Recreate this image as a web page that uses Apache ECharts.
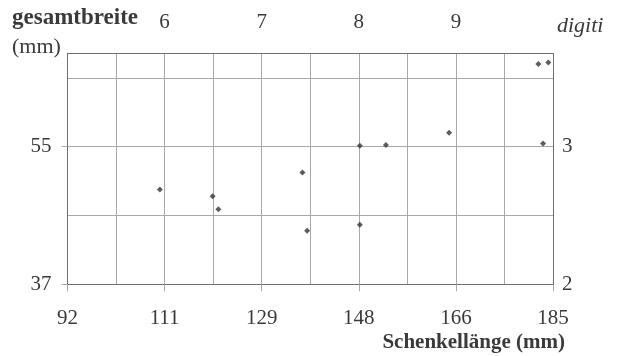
<!DOCTYPE html>
<html>
<head>
<meta charset="utf-8">
<script src="https://cdn.jsdelivr.net/npm/echarts@6/dist/echarts.min.js"></script>
<style>
  html, body { margin: 0; padding: 0; background: #fff; }
  #chart { width: 618px; height: 356px; }
</style>
</head>
<body>
<div id="chart"></div>
<script>
// Schenkellänge (mm) of each specimen
const legLength = [109.7, 119.8, 120.9, 137.0, 137.9, 148.0, 153.0, 165.1, 183.1, 148.0, 182.2, 184.1];
// Gesamtbreite (mm) of each specimen
const totalWidth = [49.4, 48.5, 46.8, 51.6, 44.0, 55.1, 55.2, 56.8, 55.4, 44.8, 65.8, 66.0];

// Axis ranges and label values
const xRange = [92, 185];
const xStep = 18.6;           // labelled step along Schenkellänge
const digitRange = [5, 10];   // digiti scale along the top
const digitLabels = [6, 7, 8, 9];
const yRange = [37, 67.2];
const yLabels = [37, 55];
const rightRange = [2, 2 + (67.2 - 37) / 18];
const rightLabels = [2, 3];

const FONT = 'Liberation Serif';
const INK = '#3a3a3a';
const GRID = '#a8a8a8';
const FRAME = '#6e6e6e';

const points = legLength.map((x, i) => [x, totalWidth[i]]);

const chart = echarts.init(document.getElementById('chart'), null, { renderer: 'canvas' });

chart.setOption({
  animation: false,
  grid: { left: 67.5, right: 65, top: 53.3, bottom: 71.7, containLabel: false },
  xAxis: [
    {
      type: 'value', position: 'bottom',
      min: xRange[0], max: xRange[1], interval: xStep,
      axisLine: { show: true, lineStyle: { color: FRAME, width: 1 } },
      axisTick: { show: true, inside: false, length: 7, lineStyle: { color: GRID } },
      axisLabel: {
        margin: 24, color: INK, fontFamily: FONT, fontSize: 21,
        formatter: v => String(Math.round(v))
      },
      splitLine: { show: false }
    },
    {
      type: 'value', position: 'top',
      min: digitRange[0], max: digitRange[1], interval: 0.5,
      axisLine: { show: true, lineStyle: { color: FRAME, width: 1 } },
      axisTick: { show: false },
      axisLabel: {
        margin: 20, color: INK, fontFamily: FONT, fontSize: 21,
        formatter: v => digitLabels.includes(v) ? String(v) : ''
      },
      splitLine: { show: true, lineStyle: { color: GRID, width: 1 } }
    }
  ],
  yAxis: [
    {
      type: 'value', position: 'left',
      min: yRange[0], max: yRange[1],
      axisLine: { show: true, lineStyle: { color: FRAME, width: 1 } },
      axisTick: { show: true, length: 6, customValues: yLabels, lineStyle: { color: GRID } },
      axisLabel: {
        margin: 16, color: INK, fontFamily: FONT, fontSize: 21,
        customValues: yLabels, formatter: v => String(v)
      },
      splitLine: { show: false }
    },
    {
      type: 'value', position: 'right',
      min: rightRange[0], max: rightRange[1], interval: 0.5,
      axisLine: { show: true, lineStyle: { color: FRAME, width: 1 } },
      axisTick: { show: false },
      axisLabel: {
        margin: 9, color: INK, fontFamily: FONT, fontSize: 21,
        showMaxLabel: false,
        formatter: v => rightLabels.includes(v) ? String(v) : ''
      },
      splitLine: { show: true, lineStyle: { color: GRID, width: 1 } }
    }
  ],
  graphic: [
    { type: 'text', left: 12, top: 7,
      style: { text: 'gesamtbreite', font: `bold 23px "${FONT}"`, fill: INK } },
    { type: 'text', left: 12, top: 36,
      style: { text: '(mm)', font: `22px "${FONT}"`, fill: INK } },
    { type: 'text', left: 557, top: 15,
      style: { text: 'digiti', font: `italic 22px "${FONT}"`, fill: INK } },
    { type: 'text', right: 53, top: 332,
      style: { text: 'Schenkellänge (mm)', font: `bold 21px "${FONT}"`, fill: INK } }
  ],
  series: [
    {
      type: 'scatter', xAxisIndex: 0, yAxisIndex: 0,
      data: points,
      symbol: 'diamond', symbolSize: 6,
      itemStyle: { color: '#333' }
    }
  ]
});
</script>
</body>
</html>
